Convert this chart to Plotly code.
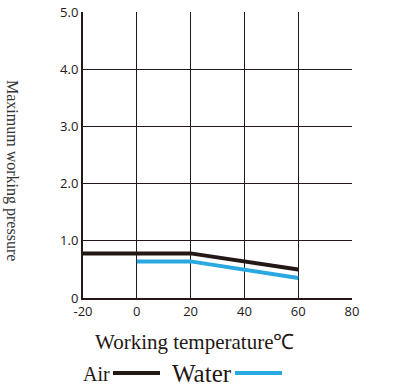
import plotly.graph_objects as go

temp_air = [-20, 20, 60]
press_air = [0.78, 0.78, 0.5]
temp_water = [0, 20, 60]
press_water = [0.64, 0.64, 0.35]

x_ticks = [-20, 0, 20, 40, 60, 80]
y_ticks = [0, 1, 2, 3, 4, 5]
y_labels = ["0", "1.0", "2.0", "3.0", "4.0", "5.0"]

BLACK = "#231815"
BLUE = "#29A9E0"
W, H = 397, 389

def px(x):
    return x / W

def py(y):
    return (H - y) / H

fig = go.Figure()
fig.add_trace(go.Scatter(x=temp_air, y=press_air, mode="lines",
                         line=dict(color=BLACK, width=4), name="Air"))
fig.add_trace(go.Scatter(x=temp_water, y=press_water, mode="lines",
                         line=dict(color=BLUE, width=4), name="Water"))

tick_font = dict(family="Open Sans", size=13, color="#231815")
serif = "Liberation Serif"

fig.update_layout(
    width=W, height=H,
    margin=dict(l=0, r=0, t=0, b=0, autoexpand=False),
    paper_bgcolor="white", plot_bgcolor="white",
    showlegend=False,
    xaxis=dict(domain=[px(83), px(352)], range=[-20, 80], tickvals=x_ticks,
               ticktext=[str(v) for v in x_ticks], automargin=False,
               showgrid=True, gridcolor=BLACK, gridwidth=1, zeroline=False,
               showline=True, linecolor=BLACK, linewidth=2,
               ticks="", tickfont=tick_font, ticklabelstandoff=0),
    yaxis=dict(domain=[py(298), py(12)], range=[0, 5], tickvals=y_ticks, ticktext=y_labels,
               automargin=False,
               showgrid=True, gridcolor=BLACK, gridwidth=1, zeroline=False,
               showline=True, linecolor=BLACK, linewidth=2,
               ticks="", tickfont=tick_font),
)

fig.add_annotation(xref="paper", yref="paper", x=px(12), y=py(170),
                   text="Maximum working pressure", showarrow=False, textangle=90,
                   xanchor="center", yanchor="middle",
                   font=dict(family=serif, size=16, color="#333333"))

fig.add_annotation(xref="paper", yref="paper", x=px(195), y=py(342),
                   text="Working temperature℃", showarrow=False,
                   xanchor="center", yanchor="middle",
                   font=dict(family=serif, size=21, color="#231815"))

# legend
ly = 373
fig.add_annotation(xref="paper", yref="paper", x=px(112), y=py(ly + 1),
                   text="Air", showarrow=False, xanchor="right", yanchor="middle",
                   font=dict(family=serif, size=20, color="#231815"))
fig.add_shape(type="line", xref="paper", yref="paper",
              x0=px(113), x1=px(160), y0=py(ly), y1=py(ly),
              line=dict(color=BLACK, width=4))
fig.add_annotation(xref="paper", yref="paper", x=px(234), y=py(ly),
                   text="Water", showarrow=False, xanchor="right", yanchor="middle",
                   font=dict(family=serif, size=25, color="#231815"))
fig.add_shape(type="line", xref="paper", yref="paper",
              x0=px(235), x1=px(282), y0=py(ly), y1=py(ly),
              line=dict(color=BLUE, width=4))

fig.write_html("out.html", config={"displayModeBar": False},
               post_script="document.body.style.margin='0px';document.body.style.overflow='hidden';")
